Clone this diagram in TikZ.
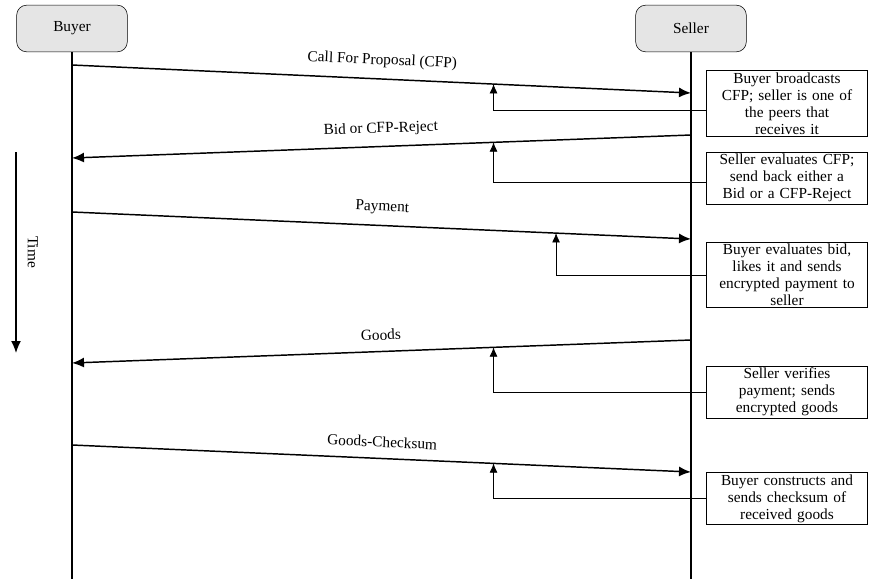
\documentclass[tikz,border=0pt]{standalone}
\usepackage{fontspec}
\setmainfont{Liberation Serif}
\usetikzlibrary{arrows.meta,positioning,calc}

\begin{document}
\begin{tikzpicture}[x=0.75pt,y=-0.75pt,
  font=\fontsize{11.5}{12.75}\selectfont,
  party/.style={rectangle, rounded corners=7.5pt, draw=black, fill=black!10, minimum width=83pt, minimum height=35pt},
  note/.style={rectangle, draw=black, line width=0.6pt, align=center, text width=117pt, inner xsep=2pt, inner ysep=1.5pt},
  lifeline/.style={line width=1.1pt},
  msg/.style={line width=1.1pt, -{Latex[length=9pt,width=7.5pt]}},
  link/.style={line width=0.6pt, -{Latex[length=7pt,width=6pt]}}]
  \useasboundingbox (0,0) rectangle (869,579);

  % the two parties and their lifelines
  \node (buyer) [party] at (72,28.5) {Buyer};
  \node (seller) [party] at (691,28.5) {Seller};
  \coordinate (buyerend) at (72,579);
  \coordinate (sellerend) at (691,579);
  \draw [lifeline] (buyer) -- (buyerend);
  \draw [lifeline] (seller) -- (sellerend);

  % time axis
  \coordinate (timetop) at (16,152);
  \coordinate (timebottom) at (16,353);
  \draw [msg] (timetop) -- (timebottom);
  \node (time) [rotate=-90] at (33,252) {Time};

  % messages
  \coordinate (b1) at (72,65);   \coordinate (s1) at (691,93);
  \coordinate (s2) at (691,135); \coordinate (b2) at (72,158);
  \coordinate (b3) at (72,212);  \coordinate (s3) at (691,239);
  \coordinate (s4) at (691,340); \coordinate (b4) at (72,363);
  \coordinate (b5) at (72,445);  \coordinate (s5) at (691,472);

  \draw [msg] (b1) -- node (cfp) [sloped, above=4.5pt, midway] {Call For Proposal (CFP)} coordinate [pos=0.681] (m1) (s1);
  \draw [msg] (s2) -- node (bid) [sloped, above=4pt, midway] {Bid or CFP-Reject} coordinate [pos=0.319] (m2) (b2);
  \draw [msg] (b3) -- node (pay) [sloped, above=4.5pt, midway] {Payment} coordinate [pos=0.782] (m3) (s3);
  \draw [msg] (s4) -- node (goods) [sloped, above=4.5pt, midway] {Goods} coordinate [pos=0.319] (m4) (b4);
  \draw [msg] (b5) -- node (sum) [sloped, above=4.5pt, midway] {Goods-Checksum} coordinate [pos=0.681] (m5) (s5);

  % explanations
  \node (n1) [note] at (787,103.5) {Buyer broadcasts\\CFP; seller is one of\\the peers that\\receives it};
  \node (n2) [note] at (787,178) {Seller evaluates CFP;\\send back either a\\Bid or a CFP-Reject};
  \node (n3) [note] at (787,275) {Buyer evaluates bid,\\likes it and sends\\encrypted payment to\\seller};
  \node (n4) [note] at (787,392) {Seller verifies\\payment; sends\\encrypted goods};
  \node (n5) [note] at (787,498.5) {Buyer constructs and\\sends checksum of\\received goods};

  \draw [link] ([yshift=-5pt]n1.west) -| (m1);
  \draw [link] ([yshift=-3pt]n2.west) -| (m2);
  \draw [link] (n3.west) -| (m3);
  \draw [link] (n4.west) -| (m4);
  \draw [link] (n5.west) -| (m5);
\end{tikzpicture}
\end{document}
